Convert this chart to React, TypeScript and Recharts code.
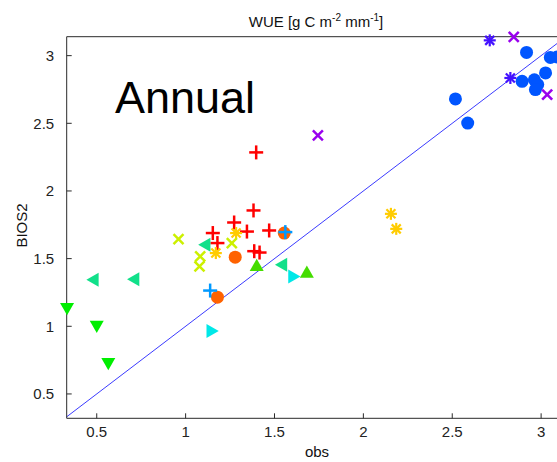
import React from "react";
import { ScatterChart, Scatter, XAxis, YAxis, ReferenceLine } from "recharts";

// [obs, BIOS2] pairs, one list per site group
const redPlus = [
  [1.397, 2.285], [1.382, 1.856], [1.273, 1.767], [1.153, 1.689], [1.179, 1.615],
  [1.345, 1.7], [1.47, 1.708], [1.386, 1.555], [1.416, 1.545],
];
const orangeCircle = [[1.279, 1.511], [1.555, 1.689], [1.179, 1.215]];
const yellowStar = [[1.284, 1.689], [1.17, 1.541], [2.155, 1.831], [2.185, 1.72]];
const limeCross = [[1.26, 1.615], [1.082, 1.516], [1.078, 1.442], [0.96, 1.644]];
const greenUp = [[1.4, 1.447], [1.682, 1.397]];
const greenDown = [[0.333, 1.134], [0.5, 1.003], [0.565, 0.727]];
const tealLeft = [[1.11, 1.602], [1.542, 1.454], [0.481, 1.343], [0.71, 1.348]];
const cyanRight = [[1.607, 1.368], [1.147, 0.966]];
const skyPlus = [[1.138, 1.264], [1.561, 1.696]];
const blueCircle = [
  [2.918, 3.024], [3.052, 2.987], [3.09, 2.99], [2.893, 2.81], [2.962, 2.822],
  [3.025, 2.872], [2.981, 2.786], [2.968, 2.749], [2.518, 2.68], [2.587, 2.502],
];
const violetStar = [[2.711, 3.113], [2.827, 2.835]];
const purpleCross = [[2.846, 3.138], [3.034, 2.712], [1.744, 2.41]];

const ticks = [0.5, 1, 1.5, 2, 2.5, 3];
const xDomain = [0.331, 3.14];
const yDomain = [0.32, 3.14];

type Kind = "plus" | "x" | "star" | "o" | "up" | "down" | "left" | "right";

const groups: { name: string; pts: number[][]; kind: Kind; color: string }[] = [
  { name: "g1", pts: redPlus, kind: "plus", color: "#ff0000" },
  { name: "g2", pts: orangeCircle, kind: "o", color: "#ff6200" },
  { name: "g3", pts: yellowStar, kind: "star", color: "#ffcc00" },
  { name: "g4", pts: limeCross, kind: "x", color: "#ccf000" },
  { name: "g5", pts: greenUp, kind: "up", color: "#44dd00" },
  { name: "g6", pts: greenDown, kind: "down", color: "#00ee00" },
  { name: "g7", pts: tealLeft, kind: "left", color: "#11e08a" },
  { name: "g8", pts: cyanRight, kind: "right", color: "#00e8e8" },
  { name: "g9", pts: skyPlus, kind: "plus", color: "#0099ff" },
  { name: "g10", pts: blueCircle, kind: "o", color: "#0055ff" },
  { name: "g11", pts: violetStar, kind: "star", color: "#4411ff" },
  { name: "g12", pts: purpleCross, kind: "x", color: "#9900ee" },
];

function Marker({ cx, cy, kind, color }: { cx: number; cy: number; kind: Kind; color: string }) {
  if (cx == null || cy == null) return null;
  const s = 7;
  switch (kind) {
    case "plus":
      return (
        <g stroke={color} strokeWidth={2.5}>
          <line x1={cx - s} y1={cy} x2={cx + s} y2={cy} />
          <line x1={cx} y1={cy - s} x2={cx} y2={cy + s} />
        </g>
      );
    case "x":
      return (
        <g stroke={color} strokeWidth={2.5}>
          <line x1={cx - 5} y1={cy - 5} x2={cx + 5} y2={cy + 5} />
          <line x1={cx - 5} y1={cy + 5} x2={cx + 5} y2={cy - 5} />
        </g>
      );
    case "star":
      return (
        <g stroke={color} strokeWidth={2.2}>
          <line x1={cx - 6} y1={cy} x2={cx + 6} y2={cy} />
          <line x1={cx} y1={cy - 6} x2={cx} y2={cy + 6} />
          <line x1={cx - 4.5} y1={cy - 4.5} x2={cx + 4.5} y2={cy + 4.5} />
          <line x1={cx - 4.5} y1={cy + 4.5} x2={cx + 4.5} y2={cy - 4.5} />
        </g>
      );
    case "o":
      return <circle cx={cx} cy={cy} r={6.5} fill={color} />;
    case "up":
      return <polygon points={`${cx},${cy - s} ${cx - s},${cy + s * 0.75} ${cx + s},${cy + s * 0.75}`} fill={color} />;
    case "down":
      return <polygon points={`${cx},${cy + s} ${cx - s},${cy - s * 0.75} ${cx + s},${cy - s * 0.75}`} fill={color} />;
    case "left":
      return <polygon points={`${cx - s},${cy} ${cx + s * 0.75},${cy - s} ${cx + s * 0.75},${cy + s}`} fill={color} />;
    default:
      return <polygon points={`${cx + s},${cy} ${cx - s * 0.75},${cy - s} ${cx - s * 0.75},${cy + s}`} fill={color} />;
  }
}

const axisColor = "#2a2a2a";
const font = "'Liberation Sans', Arial, sans-serif";

export default function App() {
  return (
    <div
      style={{
        position: "fixed",
        left: 0,
        top: 0,
        width: 557,
        height: 462,
        overflow: "hidden",
        background: "#fff",
        fontFamily: font,
      }}
    >
      <ScatterChart width={600} height={462} margin={{ top: 26.7, right: 34, left: 6.7, bottom: 13.7 }}>
        <XAxis
          xAxisId="top"
          orientation="top"
          type="number"
          dataKey="x"
          domain={xDomain}
          ticks={ticks}
          height={10}
          tick={false}
          tickSize={-5}
          stroke={axisColor}
        />
        <XAxis
          type="number"
          dataKey="x"
          domain={xDomain}
          ticks={ticks}
          height={30}
          tickSize={-5}
          tickMargin={12.7}
          stroke={axisColor}
          tick={{ fill: "#222", fontSize: 15, fontFamily: font }}
        />
        <YAxis
          type="number"
          dataKey="y"
          domain={yDomain}
          ticks={ticks}
          width={60}
          tickSize={-5}
          tickMargin={17.5}
          stroke={axisColor}
          tick={{ fill: "#222", fontSize: 15, fontFamily: font }}
        />
        <ReferenceLine
          segment={[{ x: 0.331, y: 0.331 }, { x: 3.14, y: 3.14 }]}
          stroke="#3b3bff"
          strokeWidth={1}
        />
        {groups.map((g) => (
          <Scatter
            key={g.name}
            data={g.pts.map(([x, y]) => ({ x, y }))}
            isAnimationActive={false}
            shape={(p: any) => <Marker cx={p.cx} cy={p.cy} kind={g.kind} color={g.color} />}
          />
        ))}
      </ScatterChart>
      <svg
        width={557}
        height={462}
        style={{ position: "absolute", left: 0, top: 0, pointerEvents: "none" }}
        fontFamily={font}
      >
        <text x={316} y={26.7} textAnchor="middle" fontSize={15} fill="#111">
          WUE [g C m
          <tspan fontSize={10} dy={-6}>-2</tspan>
          <tspan dy={6}> mm</tspan>
          <tspan fontSize={10} dy={-6}>-1</tspan>
          <tspan dy={6}>]</tspan>
        </text>
        <text x={317} y={457} textAnchor="middle" fontSize={15} fill="#111">
          obs
        </text>
        <text transform="translate(27,225.5) rotate(-90)" textAnchor="middle" fontSize={15} fill="#111">
          BIOS2
        </text>
        <text x={115} y={113} fontSize={45} fill="#000">
          Annual
        </text>
      </svg>
    </div>
  );
}
